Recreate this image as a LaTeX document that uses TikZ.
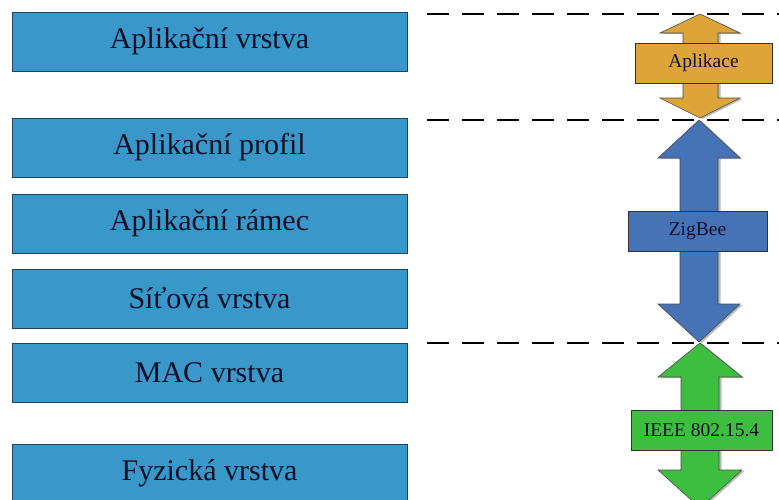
\documentclass[tikz,border=0pt]{standalone}
\usepackage{fontspec}
\setmainfont{Liberation Serif}
\definecolor{layerblue}{RGB}{57,152,201}
\definecolor{layeredge}{RGB}{28,68,98}
\definecolor{appgold}{RGB}{221,164,58}
\definecolor{zbblue}{RGB}{70,114,182}
\definecolor{ieeegreen}{RGB}{62,190,62}
\definecolor{txtnavy}{RGB}{14,16,38}
\tikzset{
  layerbox/.style={draw=layeredge,line width=1pt,fill=layerblue,minimum width=395pt,minimum height=59pt,inner sep=0pt,text=txtnavy,font=\fontsize{30}{35}\selectfont},
  stackbox/.style={draw=black!80,line width=0.8pt,minimum height=40pt,inner sep=0pt,text=txtnavy,font=\fontsize{19.5}{23}\selectfont},
  bigarrow/.style={draw=black!70,line width=0.6pt},
  arrowshade/.style={fill=black!45,draw=none,opacity=0.6},
  levelline/.style={line width=2pt,dash pattern=on 22pt off 13pt}
}
\begin{document}
\begin{tikzpicture}[x=1pt,y=1pt,yscale=-1]
\path[use as bounding box] (0,0) rectangle (779,499);

% Layers
\node[layerbox] (app) at (209.5,41.5) {Aplikační vrstva};
\node[layerbox] (profile) at (209.5,147.5) {Aplikační profil};
\node[layerbox] (frame) at (209.5,223.5) {Aplikační rámec};
\node[layerbox] (net) at (209.5,298.5) {Síťová vrstva};
\node[layerbox] (mac) at (209.5,372.5) {MAC vrstva};
\node[layerbox] (phy) at (209.5,473.5) {Fyzická vrstva};

% Boundary lines
\draw[levelline] (427,14) -- (779,14);
\draw[levelline] (427,120) -- (779,120);
\draw[levelline] (427,343) -- (779,343);

% Aplikace arrow
\fill[arrowshade,shift={(2.5,1)}] (700,14) -- (740,33) -- (718,33) -- (718,98) -- (740,98) -- (700,118) -- (660,98) -- (683,98) -- (683,33) -- (660,33) -- cycle;
\draw[bigarrow,fill=appgold] (700,14) -- (740,33) -- (718,33) -- (718,98) -- (740,98) -- (700,118) -- (660,98) -- (683,98) -- (683,33) -- (660,33) -- cycle;
\node[stackbox,fill=appgold,minimum width=137pt] (aplikace) at (703.5,63) {Aplikace};

% ZigBee arrow
\fill[arrowshade,shift={(2.5,1)}] (699,120) -- (740,158) -- (718,158) -- (718,304) -- (740,304) -- (699,342) -- (658,304) -- (680,304) -- (680,158) -- (658,158) -- cycle;
\draw[bigarrow,fill=zbblue] (699,120) -- (740,158) -- (718,158) -- (718,304) -- (740,304) -- (699,342) -- (658,304) -- (680,304) -- (680,158) -- (658,158) -- cycle;
\node[stackbox,fill=zbblue,minimum width=139pt] (zigbee) at (697.5,231) {ZigBee};

% IEEE arrow
\fill[arrowshade,shift={(2.5,1)}] (700,343) -- (742,377) -- (719,377) -- (719,470) -- (742,470) -- (700,508) -- (658,470) -- (681,470) -- (681,377) -- (658,377) -- cycle;
\draw[bigarrow,fill=ieeegreen] (700,343) -- (742,377) -- (719,377) -- (719,470) -- (742,470) -- (700,508) -- (658,470) -- (681,470) -- (681,377) -- (658,377) -- cycle;
\node[stackbox,fill=ieeegreen,minimum width=141pt] (ieee) at (701.5,430) {IEEE 802.15.4};

\end{tikzpicture}
\end{document}
